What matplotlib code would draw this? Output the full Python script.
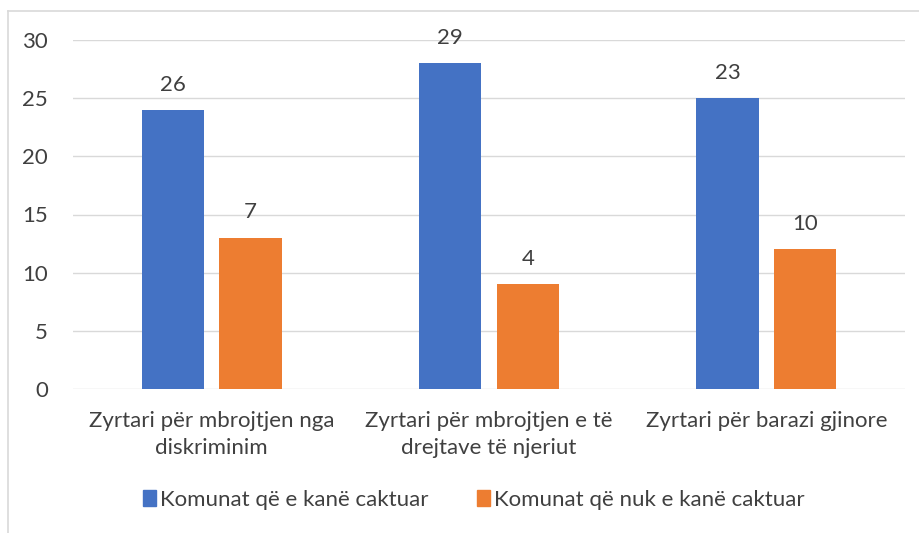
import matplotlib
matplotlib.use("Agg")
import matplotlib.pyplot as plt
from matplotlib.lines import Line2D
from matplotlib.patches import Patch
import numpy as np

categories = ["Zyrtari për mbrojtjen nga\ndiskriminim",
              "Zyrtari për mbrojtjen e të\ndrejtave të njeriut",
              "Zyrtari për barazi gjinore"]
series_names = ["Komunat që e kanë caktuar", "Komunat që nuk e kanë caktuar"]
bar_heights_set = [24, 28, 25]
bar_heights_not = [13, 9, 12]
labels_set = [26, 29, 23]
labels_not = [7, 4, 10]
colors = ["#4472C4", "#ED7D31"]
yticks = [0, 5, 10, 15, 20, 25, 30]

plt.rcParams['font.family'] = ['Lato', 'DejaVu Sans']
text_color = "#404040"
fs = 16

fig = plt.figure(figsize=(9.2, 5.33), dpi=100)
ax = fig.add_axes([73/920, 1-389/533, (905-73)/920, (389-40)/533])

x = np.arange(len(categories))
w = 0.224
off = 0.14
b1 = ax.bar(x - off, bar_heights_set, w, color=colors[0], zorder=3)
b2 = ax.bar(x + off, bar_heights_not, w, color=colors[1], zorder=3)

for bars, labs in ((b1, labels_set), (b2, labels_not)):
    for r, lab in zip(bars, labs):
        ax.annotate(str(lab), (r.get_x() + r.get_width()/2, r.get_height()),
                    xytext=(0, 11), textcoords="offset points",
                    ha="center", va="bottom", fontsize=fs, color=text_color)

ax.set_xlim(-0.5, 2.5)
ax.set_ylim(0, 30)
ax.set_yticks(yticks)
ax.yaxis.grid(True, color="#d9d9d9", linewidth=1, zorder=0)
for s in ax.spines.values():
    s.set_visible(False)
ax.tick_params(axis="both", length=0, labelsize=fs, colors=text_color)
ax.tick_params(axis="y", pad=18)
ax.tick_params(axis="x", pad=16)
ax.set_xticks(x)
ax.set_xticklabels(categories, linespacing=1.4)

handles = [Patch(color=c) for c in colors]
fig.legend(handles, series_names, loc="center", bbox_to_anchor=(474/920, 1-500/533),
           ncol=2, frameon=False, fontsize=fs, handlelength=0.55, handleheight=0.75,
           handletextpad=0.2, columnspacing=2.2, labelcolor=text_color)

# outer chart frame (cropped at right/bottom)
fig.add_artist(Line2D([8/920, 1], [1-11/533, 1-11/533], color="#d9d9d9", linewidth=1.2))
fig.add_artist(Line2D([8/920, 8/920], [0, 1-11/533], color="#d9d9d9", linewidth=1.2))

fig.savefig("out.png", dpi=100)
